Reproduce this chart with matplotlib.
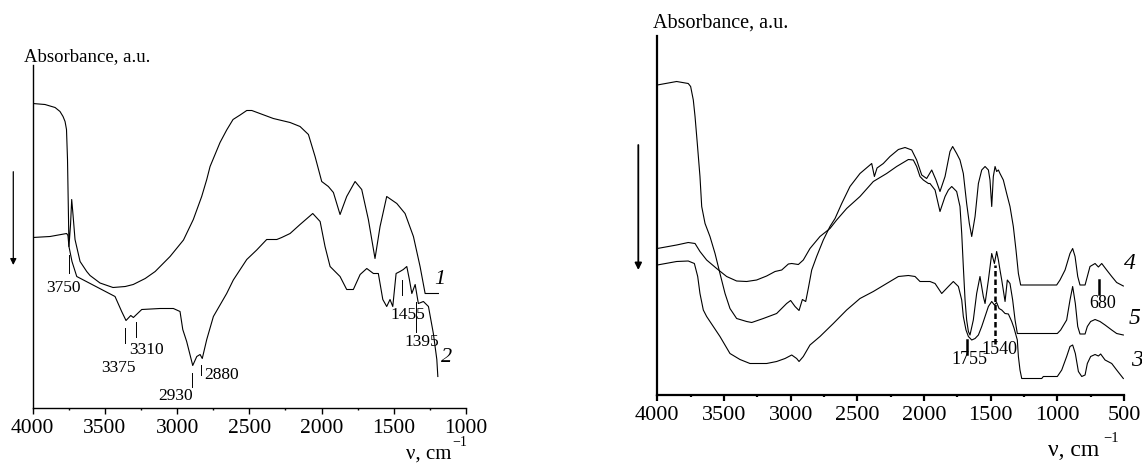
import matplotlib
matplotlib.use("Agg")
import matplotlib.pyplot as plt
import matplotlib.ticker as mticker
import matplotlib.transforms as mtransforms

plt.rcParams["font.family"] = ["Liberation Serif", "DejaVu Serif"]

# ---- left panel: curves 1 and 2 (wavenumber, absorbance a.u.) ----
wn_1 = [4000, 3915, 3845, 3811, 3790, 3776, 3766, 3759, 3752, 3749, 3738, 3730,
        3721, 3707, 3672, 3626, 3603, 3534, 3444, 3359, 3304, 3221, 3152, 3049,
        2956, 2888, 2830, 2795, 2772, 2703, 2657, 2613, 2564, 2518, 2483, 2334,
        2218, 2149, 2091, 2045, 1999, 1953, 1918, 1872, 1826, 1768, 1722, 1676,
        1630, 1595, 1549, 1479, 1422, 1364, 1318, 1283, 1191]
ab_1 = [3.04, 3.03, 3.00, 2.96, 2.91, 2.86, 2.78, 2.48, 1.88, 1.61, 1.83, 2.08,
        1.93, 1.68, 1.46, 1.36, 1.32, 1.245, 1.20, 1.21, 1.23, 1.29, 1.36, 1.51,
        1.675, 1.88, 2.11, 2.28, 2.41, 2.65, 2.775, 2.88, 2.925, 2.97, 2.97, 2.89,
        2.85, 2.81, 2.73, 2.51, 2.26, 2.21, 2.15, 1.93, 2.11, 2.26, 2.18, 1.88,
        1.49, 1.81, 2.11, 2.04, 1.94, 1.71, 1.41, 1.14, 1.14]

wn_2 = [4000, 3880, 3765, 3756, 3749, 3728, 3695, 3430, 3384, 3354, 3321, 3303,
        3245, 3118, 3026, 2980, 2961, 2934, 2892, 2864, 2841, 2826, 2795, 2749,
        2657, 2611, 2518, 2449, 2380, 2310, 2276, 2218, 2149, 2061, 2010, 1976,
        1941, 1872, 1826, 1780, 1733, 1687, 1641, 1607, 1576, 1549, 1526, 1507,
        1484, 1457, 1434, 1410, 1392, 1375, 1352, 1330, 1295, 1260, 1226, 1202,
        1195]
ab_2 = [1.70, 1.71, 1.74, 1.72, 1.61, 1.46, 1.31, 1.11, 0.96, 0.87, 0.92, 0.90,
        0.98, 0.99, 0.99, 0.96, 0.78, 0.66, 0.42, 0.51, 0.53, 0.49, 0.68, 0.91,
        1.14, 1.275, 1.48, 1.575, 1.68, 1.68, 1.70, 1.74, 1.83, 1.94, 1.86, 1.61,
        1.41, 1.31, 1.18, 1.18, 1.33, 1.39, 1.34, 1.34, 1.08, 1.01, 1.08, 1.01,
        1.34, 1.36, 1.38, 1.41, 1.28, 1.14, 1.23, 1.04, 1.06, 1.01, 0.74, 0.48,
        0.31]

# peak marks on the left panel: label, tick wn, tick A range, text wn, text A
left_marks = [
    ("3750", 3749, (1.345, 1.525), 3790, 1.195),
    ("3375", 3361, (0.645, 0.795), 3409, 0.395),
    ("3310", 3287, (0.708, 0.858), 3211, 0.575),
    ("2930", 2899, (0.205, 0.345), 3010, 0.115),
    ("2880", 2834, (0.325, 0.425), 2691, 0.325),
    ("1455", 1440, (1.125, 1.275), 1403, 0.925),
    ("1395", 1348, (0.758, 1.058), 1306, 0.658),
]
left_curve_labels = [("1", 1180, 1.275), ("2", 1134, 0.495)]

# ---- right panel: curves 4, 5, 3 ----
wn_4 = [4000, 3855, 3768, 3750, 3730, 3717, 3700, 3680, 3667, 3642, 3605, 3567,
        3530, 3492, 3455, 3405, 3330, 3292, 3205, 3105, 3030, 3000, 2967, 2937,
        2912, 2887, 2867, 2842, 2805, 2755, 2705, 2667, 2617, 2555, 2480, 2392,
        2372, 2352, 2305, 2255, 2192, 2142, 2092, 2055, 2017, 1980, 1942, 1910,
        1880, 1842, 1805, 1785, 1755, 1730, 1705, 1680, 1660, 1642, 1617, 1592,
        1567, 1542, 1517, 1505, 1492, 1480, 1467, 1455, 1442, 1430, 1405, 1380,
        1355, 1330, 1310, 1292, 1275, 1005, 980, 942, 905, 885, 867, 847, 830,
        792, 775, 755, 717, 692, 667, 630, 592, 555, 505]
ab_4 = [3.095, 3.13, 3.11, 3.08, 2.945, 2.78, 2.51, 2.18, 1.88, 1.71, 1.58, 1.41,
        1.21, 1.01, 0.86, 0.76, 0.73, 0.72, 0.76, 0.81, 0.91, 0.94, 0.88, 0.84,
        0.95, 0.93, 1.065, 1.245, 1.38, 1.545, 1.68, 1.76, 1.91, 2.08, 2.21, 2.31,
        2.18, 2.265, 2.31, 2.38, 2.45, 2.47, 2.445, 2.345, 2.195, 2.16, 2.245, 2.145,
        2.03, 2.18, 2.43, 2.48, 2.41, 2.345, 2.21, 1.91, 1.71, 1.58, 1.78, 2.11,
        2.245, 2.28, 2.245, 2.145, 1.88, 2.18, 2.28, 2.23, 2.245, 2.21, 2.145, 2.01,
        1.88, 1.68, 1.445, 1.21, 1.095, 1.095, 1.145, 1.245, 1.41, 1.46, 1.38, 1.18, 1.095,
        1.095, 1.18, 1.28, 1.31, 1.275, 1.31, 1.245, 1.18, 1.12, 1.085]

wn_5 = [4000, 3855, 3768, 3717, 3680, 3630, 3555, 3480, 3405, 3330, 3255, 3180,
        3117, 3067, 3017, 2992, 2942, 2905, 2855, 2780, 2705, 2655, 2580, 2480,
        2380, 2280, 2205, 2117, 2080, 2055, 2030, 2005, 1967, 1955, 1917, 1880,
        1842, 1817, 1792, 1755, 1730, 1717, 1705, 1692, 1680, 1667, 1655, 1630,
        1605, 1580, 1555, 1542, 1517, 1492, 1472, 1455, 1442, 1430, 1417, 1392,
        1375, 1355, 1335, 1317, 1300, 1000, 975, 930, 905, 885, 865, 847, 830,
        792, 775, 750, 717, 680, 642, 592, 555, 505]
ab_5 = [1.46, 1.495, 1.52, 1.51, 1.43, 1.345, 1.26, 1.18, 1.135, 1.13, 1.145, 1.185,
        1.23, 1.245, 1.305, 1.31, 1.30, 1.345, 1.46, 1.58, 1.66, 1.745, 1.86, 1.98,
        2.13, 2.21, 2.28, 2.35, 2.345, 2.28, 2.18, 2.145, 2.11, 2.11, 2.045, 1.83,
        1.98, 2.045, 2.08, 2.03, 1.88, 1.61, 1.28, 0.945, 0.745, 0.63, 0.595, 0.745,
        1.01, 1.18, 0.98, 0.91, 1.145, 1.41, 1.31, 1.43, 1.345, 1.245, 1.145, 0.93,
        1.145, 1.11, 0.945, 0.745, 0.61, 0.61, 0.645, 0.745, 0.945, 1.08, 0.91, 0.68, 0.605,
        0.605, 0.68, 0.73, 0.75, 0.73, 0.695, 0.645, 0.61, 0.595]

wn_3 = [4000, 3855, 3768, 3722, 3697, 3680, 3655, 3630, 3580, 3530, 3455, 3380,
        3305, 3180, 3105, 3042, 2992, 2955, 2937, 2905, 2855, 2780, 2680, 2580,
        2480, 2380, 2280, 2192, 2117, 2067, 2030, 1980, 1955, 1917, 1867, 1817,
        1780, 1742, 1717, 1705, 1685, 1667, 1642, 1617, 1592, 1567, 1542, 1517,
        1492, 1472, 1455, 1437, 1417, 1392, 1367, 1342, 1325, 1300, 1292, 1280,
        1267, 1117, 1105, 1000, 967, 930, 905, 885, 865, 842, 817, 792, 775, 750,
        717, 692, 675, 642, 592, 555, 505]
ab_3 = [1.295, 1.33, 1.335, 1.31, 1.18, 1.01, 0.845, 0.78, 0.68, 0.58, 0.41, 0.35,
        0.31, 0.31, 0.33, 0.36, 0.395, 0.36, 0.33, 0.38, 0.495, 0.58, 0.71, 0.845,
        0.96, 1.03, 1.11, 1.18, 1.19, 1.18, 1.13, 1.13, 1.13, 1.11, 1.01, 1.08,
        1.13, 1.08, 0.945, 0.78, 0.645, 0.58, 0.545, 0.56, 0.595, 0.68, 0.78, 0.88,
        0.93, 0.895, 0.92, 0.86, 0.845, 0.81, 0.805, 0.73, 0.665, 0.545, 0.38, 0.245,
        0.16, 0.16, 0.18, 0.18, 0.245, 0.38, 0.48, 0.495, 0.41, 0.23, 0.18, 0.195, 0.31, 0.38,
        0.40, 0.385, 0.405, 0.345, 0.31, 0.245, 0.16]

right_marks = [
    ("1755", 1680, (0.41, 0.545), 1660, 0.355, "-"),
    ("1540", 1467, (0.51, 1.295), 1436, 0.445, "--"),
    ("680", 685, (1.01, 1.145), 657, 0.91, "-"),
]
right_curve_labels = [("4", 455, 1.31), ("5", 418, 0.76), ("3", 405, 0.345)]

W, H = 1142, 463
fig = plt.figure(figsize=(W / 100, H / 100), dpi=100)


def px_box(x0, x1, ytop, ybot):
    return [x0 / W, (H - ybot) / H, (x1 - x0) / W, (ybot - ytop) / H]


def style_axes(ax, xmax, xmin, ytop, spine_lw, tick_fs):
    ax.set_xlim(xmax, xmin)
    ax.set_ylim(0, ytop)
    for s in ("top", "right"):
        ax.spines[s].set_visible(False)
    for s in ("left", "bottom"):
        ax.spines[s].set_linewidth(spine_lw)
    ax.set_yticks([])
    ax.xaxis.set_major_locator(mticker.MultipleLocator(500))
    ax.xaxis.set_minor_locator(mticker.MultipleLocator(250))
    ax.tick_params(axis="x", which="major", direction="out", length=4,
                   width=spine_lw, labelsize=tick_fs, pad=4)
    ax.tick_params(axis="x", which="minor", direction="out", length=1.5,
                   width=spine_lw)
    ax.patch.set_alpha(0)


def draw_marks(ax, marks, fs, lw):
    for m in marks:
        label, wn, (a0, a1), tx, ty = m[:5]
        ls = m[5] if len(m) > 5 else "-"
        ax.plot([wn, wn], [a0, a1], color="black", lw=lw,
                ls=(0, (2.2, 1.2)) if ls == "--" else "-")
        ax.text(tx, ty, label, fontsize=fs, ha="center", va="center")


# ---------------- left panel ----------------
axL = fig.add_axes(px_box(32.7, 466.0, 65, 407.5))
style_axes(axL, 4000, 1000, 3.425, 1.0, 15.5)
axL.plot(wn_1, ab_1, color="black", lw=0.8)
axL.plot(wn_2, ab_2, color="black", lw=0.8)
draw_marks(axL, left_marks, 12.5, 0.7)
for lab, x, y in left_curve_labels:
    axL.text(x, y, lab, fontsize=16, style="italic", ha="center", va="center",
             clip_on=False)
tL = mtransforms.blended_transform_factory(axL.transAxes, axL.transData)
axL.annotate("", xy=(-0.0448, 1.425), xytext=(-0.0448, 2.358),
             xycoords=tL, textcoords=tL, annotation_clip=False,
             arrowprops=dict(arrowstyle="-|>", color="black", lw=0.9,
                             mutation_scale=9, shrinkA=0, shrinkB=0))
fig.text(24 / W, 1 - 57 / H, "Absorbance, a.u.", fontsize=13.5,
         ha="left", va="center")
fig.text(406.5 / W, 1 - 454 / H, "ν, cm", fontsize=15, ha="left", va="center")
fig.text(452 / W, 1 - 443 / H, "−1", fontsize=10, ha="left", va="center")

# ---------------- right panel ----------------
axR = fig.add_axes(px_box(657.3, 1124.0, 36, 394.5))
style_axes(axR, 4000, 500, 3.585, 1.6, 16)
axR.plot(wn_4, ab_4, color="black", lw=0.8)
axR.plot(wn_5, ab_5, color="black", lw=0.8)
axR.plot(wn_3, ab_3, color="black", lw=0.8)
draw_marks(axR, right_marks, 13, 1.8)
for lab, x, y in right_curve_labels:
    axR.text(x, y, lab, fontsize=17, style="italic", ha="center", va="center",
             clip_on=False)
tR = mtransforms.blended_transform_factory(axR.transAxes, axR.transData)
axR.annotate("", xy=(-0.0407, 1.245), xytext=(-0.0407, 2.495),
             xycoords=tR, textcoords=tR, annotation_clip=False,
             arrowprops=dict(arrowstyle="-|>", color="black", lw=1.3,
                             mutation_scale=10, shrinkA=0, shrinkB=0))
fig.text(653 / W, 1 - 23.5 / H, "Absorbance, a.u.", fontsize=14.5,
         ha="left", va="center")
fig.text(1048 / W, 1 - 451 / H, "ν, cm", fontsize=17, ha="left", va="center")
fig.text(1103 / W, 1 - 439 / H, "−1", fontsize=10.5, ha="left", va="center")

fig.savefig("out.png", dpi=100)
